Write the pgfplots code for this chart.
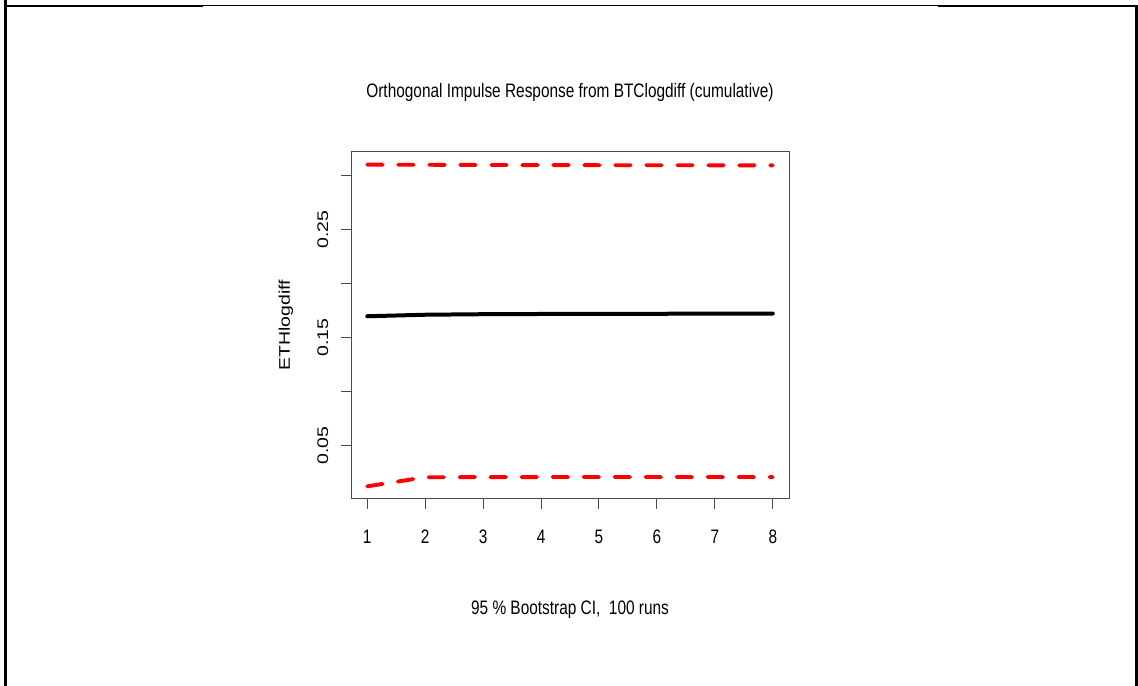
\documentclass[border=0pt]{standalone}
\usepackage{graphicx}
\usepackage{fontspec}
\setmainfont{Liberation Sans}[FakeStretch=0.79]
\newfontfamily\plainsans{Liberation Sans}
\usepackage{pgfplots}
\pgfplotsset{compat=1.18}

\definecolor{rred}{HTML}{FF0000}
\definecolor{boxgray}{HTML}{4A4A4A}
\newcommand{\rot}[1]{\plainsans\scalebox{1}[0.79]{#1}}

\begin{document}
\fontsize{19.5bp}{23bp}\selectfont
\begin{tikzpicture}[x=1bp,y=1bp]
% page frame as in the screenshot
\draw[line width=2.7bp] (5.3,686) -- (5.3,0);
\draw[line width=2bp] (4,680) -- (203,680);
\draw[line width=1bp] (203,680) -- (938,680);
\draw[line width=2bp] (938,680) -- (1137.5,680);
\draw[line width=2.4bp] (1136.3,681) -- (1136.3,0);

\begin{axis}[
  at={(351bp,187bp)}, anchor=south west,
  scale only axis, width=438bp, height=347.3bp,
  xmin=0.72, xmax=8.28, ymin=0.0007, ymax=0.3219,
  axis line style={boxgray, line width=1bp},
  tick style={boxgray, line width=1bp},
  tick align=outside, tick pos=left,
  major tick length=10bp,
  xtick={1,2,3,4,5,6,7,8},
  xticklabels={1,2,3,4,5,6,7,8},
  ytick={0.05,0.10,0.15,0.20,0.25,0.30},
  yticklabels={\rot{0.05},,\rot{0.15},,\rot{0.25},},
  xticklabel style={anchor=base, inner sep=0pt},
  xticklabel shift=35bp,
  yticklabel style={rotate=90, anchor=south, inner sep=0pt},
  yticklabel shift=12.5bp,
  title={Orthogonal Impulse Response from BTClogdiff (cumulative)},
  title style={at={(axis description cs:0.5,1.1402)}, anchor=base, inner sep=0pt},
  xlabel={95 \% Bootstrap CI,\ \ 100 runs},
  xlabel style={at={(axis description cs:0.5,-0.3340)}, anchor=base, inner sep=0pt},
  ylabel={\rot{ETHlogdiff}},
  ylabel style={at={(axis description cs:-0.1393,0.5)}, rotate=0, anchor=base, inner sep=0pt},
  clip=false,
]
\addplot[black, line width=4bp, line cap=round] coordinates {
  (1,0.1697) (2,0.1711) (3,0.1716) (4,0.1718) (5,0.1719) (6,0.1720) (7,0.1721) (8,0.1722)
};
\addplot[rred, line width=3.9bp, line cap=round, dash pattern=on 15.5bp off 15.5bp] coordinates {
  (1,0.3099) (2,0.3098) (3,0.3096) (4,0.3095) (5,0.3094) (6,0.3094) (7,0.3093) (8,0.3093)
};
\addplot[rred, line width=3.9bp, line cap=round, dash pattern=on 15.5bp off 15.5bp] coordinates {
  (1,0.0124) (2,0.0208) (3,0.0209) (4,0.0210) (5,0.0210) (6,0.0210) (7,0.0210) (8,0.0210)
};
\end{axis}
\pgfresetboundingbox
\path[use as bounding box] (0,0) rectangle (1138,686);
\end{tikzpicture}
\end{document}
